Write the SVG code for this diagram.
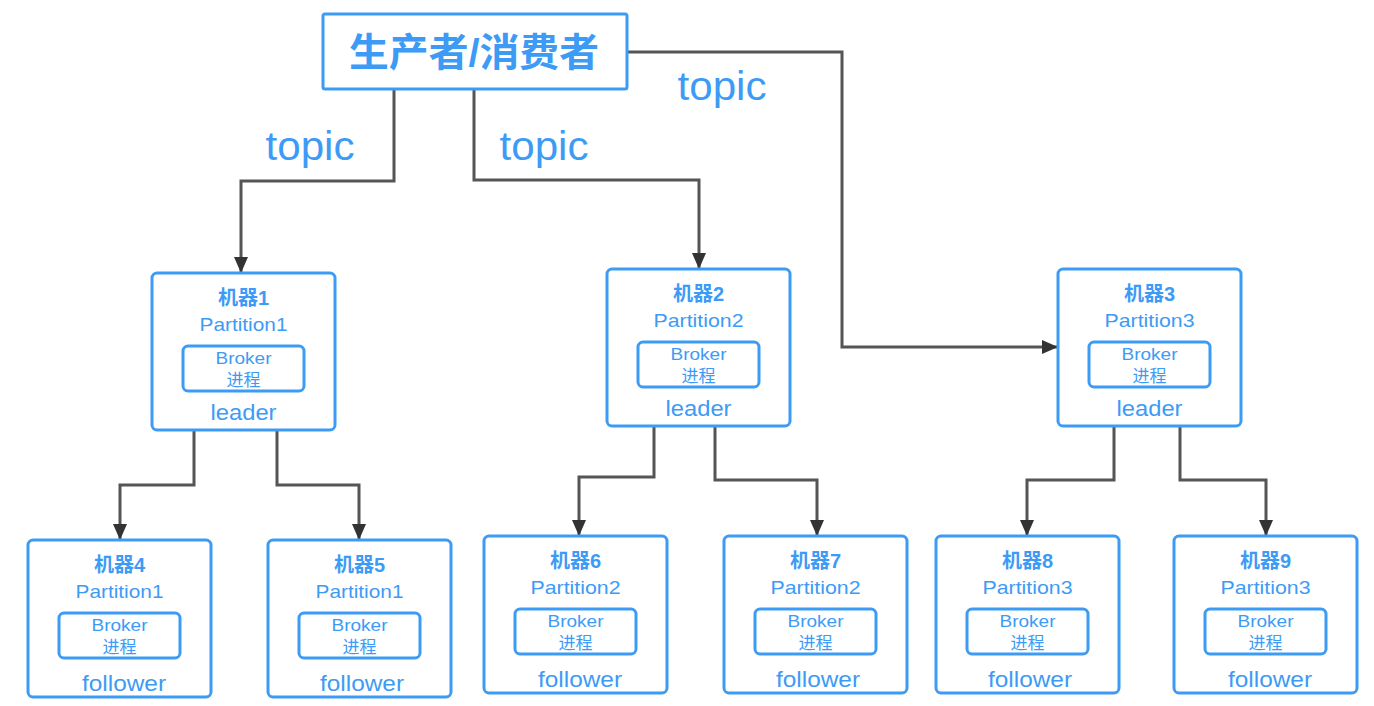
<svg xmlns="http://www.w3.org/2000/svg" width="1374" height="706" viewBox="0 0 1374 706">
<style>
.box{fill:#fff;stroke:#3d9bf5;stroke-width:3}
.t{fill:#3d9bf5;font-family:"Liberation Sans","Noto Sans CJK SC",sans-serif;text-anchor:middle}
.title{font-size:20px;font-weight:bold}
.part{font-size:19px}
.brk{font-size:17px}
.role{font-size:22px}
.conn{fill:none;stroke:#555;stroke-width:3;stroke-linejoin:miter}
</style>
<defs>
<marker id="ah" viewBox="0 0 16 14" refX="16" refY="7" markerUnits="userSpaceOnUse" markerWidth="16" markerHeight="14" orient="auto">
<path d="M0,0 L16,7 L0,14 z" fill="#333"/>
</marker>
<g id="machine">
<rect class="box" x="0" y="0" width="183" height="157" rx="5"/>
<rect class="box" x="31" y="73" width="121" height="45" rx="5"/>
<text class="t brk" x="91.5" y="91" textLength="56" lengthAdjust="spacingAndGlyphs">Broker</text>
<text class="t brk" x="91.5" y="113">进程</text>
</g>
</defs>
<rect width="1374" height="706" fill="#fff"/>
<g id="connectors">
<path class="conn" d="M394,89 V181 H241 V273" marker-end="url(#ah)"/>
<path class="conn" d="M474,89 V180 H699 V269" marker-end="url(#ah)"/>
<path class="conn" d="M627,52 H842 V347 H1058" marker-end="url(#ah)"/>
<path class="conn" d="M194,430 V485 H120 V540" marker-end="url(#ah)"/>
<path class="conn" d="M277,430 V485 H359 V540" marker-end="url(#ah)"/>
<path class="conn" d="M654,426 V477 H579 V536" marker-end="url(#ah)"/>
<path class="conn" d="M715,426 V480 H817 V536" marker-end="url(#ah)"/>
<path class="conn" d="M1114,426 V480 H1027 V536" marker-end="url(#ah)"/>
<path class="conn" d="M1180,426 V480 H1266 V536" marker-end="url(#ah)"/>
</g>
<g id="labels">
<text class="t" x="310" y="160" font-size="40" textLength="89" lengthAdjust="spacingAndGlyphs">topic</text>
<text class="t" x="544" y="160" font-size="40" textLength="89" lengthAdjust="spacingAndGlyphs">topic</text>
<text class="t" x="722" y="100" font-size="40" textLength="89" lengthAdjust="spacingAndGlyphs">topic</text>
</g>
<g id="producer">
<rect class="box" x="323" y="14" width="304" height="75" rx="2"/>
<text class="t" x="474" y="66" font-size="39" font-weight="bold" textLength="250" lengthAdjust="spacingAndGlyphs">生产者/消费者</text>
</g>
<g id="m1" transform="translate(152,273)">
<use href="#machine"/>
<text class="t title" x="91.5" y="32">机器1</text>
<text class="t part" x="91.5" y="58" textLength="88" lengthAdjust="spacingAndGlyphs">Partition1</text>
<text class="t role" x="91.5" y="147" textLength="66" lengthAdjust="spacingAndGlyphs">leader</text>
</g>
<g id="m2" transform="translate(607,269)">
<use href="#machine"/>
<text class="t title" x="91.5" y="32">机器2</text>
<text class="t part" x="91.5" y="58" textLength="90" lengthAdjust="spacingAndGlyphs">Partition2</text>
<text class="t role" x="91.5" y="147" textLength="66" lengthAdjust="spacingAndGlyphs">leader</text>
</g>
<g id="m3" transform="translate(1058,269)">
<use href="#machine"/>
<text class="t title" x="91.5" y="32">机器3</text>
<text class="t part" x="91.5" y="58" textLength="90" lengthAdjust="spacingAndGlyphs">Partition3</text>
<text class="t role" x="91.5" y="147" textLength="66" lengthAdjust="spacingAndGlyphs">leader</text>
</g>
<g id="m4" transform="translate(28,540)">
<use href="#machine"/>
<text class="t title" x="91.5" y="32">机器4</text>
<text class="t part" x="91.5" y="58" textLength="88" lengthAdjust="spacingAndGlyphs">Partition1</text>
<text class="t role" x="96" y="151" textLength="84" lengthAdjust="spacingAndGlyphs">follower</text>
</g>
<g id="m5" transform="translate(268,540)">
<use href="#machine"/>
<text class="t title" x="91.5" y="32">机器5</text>
<text class="t part" x="91.5" y="58" textLength="88" lengthAdjust="spacingAndGlyphs">Partition1</text>
<text class="t role" x="94" y="151" textLength="84" lengthAdjust="spacingAndGlyphs">follower</text>
</g>
<g id="m6" transform="translate(484,536)">
<use href="#machine"/>
<text class="t title" x="91.5" y="32">机器6</text>
<text class="t part" x="91.5" y="58" textLength="90" lengthAdjust="spacingAndGlyphs">Partition2</text>
<text class="t role" x="96" y="151" textLength="84" lengthAdjust="spacingAndGlyphs">follower</text>
</g>
<g id="m7" transform="translate(724,536)">
<use href="#machine"/>
<text class="t title" x="91.5" y="32">机器7</text>
<text class="t part" x="91.5" y="58" textLength="90" lengthAdjust="spacingAndGlyphs">Partition2</text>
<text class="t role" x="94" y="151" textLength="84" lengthAdjust="spacingAndGlyphs">follower</text>
</g>
<g id="m8" transform="translate(936,536)">
<use href="#machine"/>
<text class="t title" x="91.5" y="32">机器8</text>
<text class="t part" x="91.5" y="58" textLength="90" lengthAdjust="spacingAndGlyphs">Partition3</text>
<text class="t role" x="94" y="151" textLength="84" lengthAdjust="spacingAndGlyphs">follower</text>
</g>
<g id="m9" transform="translate(1174,536)">
<use href="#machine"/>
<text class="t title" x="91.5" y="32">机器9</text>
<text class="t part" x="91.5" y="58" textLength="90" lengthAdjust="spacingAndGlyphs">Partition3</text>
<text class="t role" x="96" y="151" textLength="84" lengthAdjust="spacingAndGlyphs">follower</text>
</g>
</svg>
